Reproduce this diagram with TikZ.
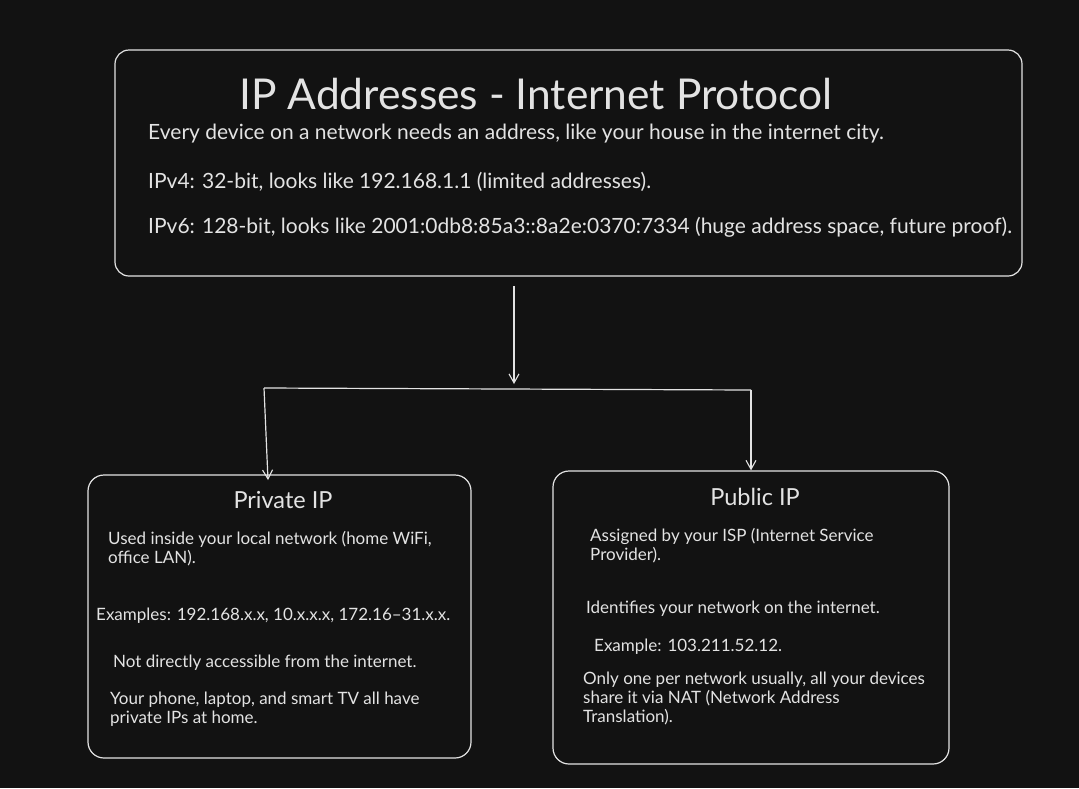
\documentclass[tikz,border=0pt]{standalone}
\usepackage{fontspec}
\setmainfont{Lato}
\usetikzlibrary{arrows.meta}
\definecolor{bgc}{HTML}{121212}
\definecolor{ink}{HTML}{E3E3E3}
\tikzset{
  panel/.style={draw=ink, line width=1.2pt, rounded corners=14pt, inner sep=0pt},
  ttl/.style={text=ink, font=\fontsize{42.5}{48}\selectfont, inner sep=0pt},
  subttl/.style={text=ink, font=\fontsize{23.5}{28}\selectfont, inner sep=0pt},
  bigtxt/.style={text=ink, font=\fontsize{21}{25}\selectfont, inner sep=0pt, anchor=west},
  smalltxt/.style={text=ink, font=\fontsize{17}{19}\selectfont, inner sep=0pt, anchor=north west, align=left},
  conn/.style={draw=ink, line width=1.2pt},
  arr/.style={conn, -{Straight Barb[length=9pt,width=10pt,line width=1.1pt]}}
}
\begin{document}
\begin{tikzpicture}[x=1pt,y=-1pt]
\fill[bgc] (0,0) rectangle (1079,788);
\useasboundingbox (0,0) rectangle (1079,788);
% top panel
\node[panel, minimum width=907pt, minimum height=226pt] (top) at (568.5,163) {};
\node[ttl] (title) at (536,94) {IP Addresses - Internet Protocol};
\node[bigtxt] (l1) at (148,134) {Every device on a network needs an address, like your house in the internet city.};
\node[bigtxt] (l2) at (148,182) {IPv4: 32-bit, looks like 192.168.1.1 (limited addresses).};
\node[bigtxt] (l3) at (148,227) {IPv6: 128-bit, looks like 2001:0db8:85a3::8a2e:0370:7334 (huge address space, future proof).};
% private panel
\node[panel, rounded corners=16pt, minimum width=383pt, minimum height=283pt] (priv) at (279.5,616.5) {};
\node[subttl] (privt) at (283,500) {Private IP};
\node[smalltxt] (p1) at (108,531) {Used inside your local network (home WiFi,\\office LAN).};
\node[smalltxt] (p2) at (96,608) {Examples: 192.168.x.x, 10.x.x.x, 172.16–31.x.x.};
\node[smalltxt] (p3) at (113,655) {Not directly accessible from the internet.};
\node[smalltxt] (p4) at (110,692) {Your phone, laptop, and smart TV all have\\private IPs at home.};
% public panel
\node[panel, rounded corners=16pt, minimum width=396pt, minimum height=293pt] (pub) at (751,617.5) {};
\node[subttl] (pubt) at (755,497) {Public IP};
\node[smalltxt] (q1) at (590,528) {Assigned by your ISP (Internet Service\\Provider).};
\node[smalltxt] (q2) at (586,601) {Identifies your network on the internet.};
\node[smalltxt] (q3) at (594,639) {Example: 103.211.52.12.};
\node[smalltxt] (q4) at (583,672) {Only one per network usually, all your devices\\share it via NAT (Network Address\\Translation).};
% connectors
\coordinate (a0) at (514,286);
\coordinate (a1) at (514,384);
\coordinate (hl) at (264,388);
\coordinate (hr) at (751,390);
\draw[arr] (a0) -- (a1);
\draw[conn] (hl) -- (hr);
\draw[arr] (hl) -- (268,480);
\draw[arr] (hr) -- (pub.north -| hr);
\end{tikzpicture}
\end{document}
